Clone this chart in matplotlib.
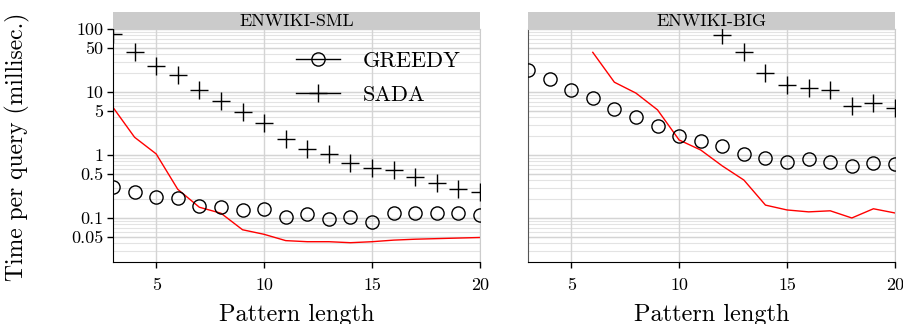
import matplotlib
matplotlib.use('Agg')
import matplotlib.pyplot as plt
import numpy as np

plt.rcParams['font.family'] = ['cmr10', 'DejaVu Serif']
plt.rcParams['axes.unicode_minus'] = False

# pattern lengths
lengths = list(range(3, 21))

# ENWIKI-SML
sml_greedy = [0.31, 0.256, 0.216, 0.208, 0.157, 0.148, 0.135, 0.14, 0.105, 0.115,
              0.096, 0.103, 0.086, 0.12, 0.12, 0.12, 0.12, 0.111]
sml_sada = [83, 42.6, 26.2, 18.6, 10.8, 7.3, 4.8, 3.2, 1.77, 1.25,
            1.03, 0.755, 0.63, 0.58, 0.45, 0.356, 0.29, 0.26]
sml_red = [5.7, 1.91, 1.04, 0.285, 0.148, 0.119, 0.065, 0.055, 0.0437, 0.042,
           0.042, 0.0405, 0.042, 0.0445, 0.046, 0.047, 0.048, 0.049]

# ENWIKI-BIG
big_greedy = [22.4, 16.1, 10.6, 7.9, 5.4, 4.0, 2.85, 1.98, 1.67, 1.41,
              1.04, 0.9, 0.766, 0.865, 0.78, 0.66, 0.75, 0.73]
big_sada_x = list(range(12, 21))
big_sada = [80, 42.6, 19.8, 12.9, 11.4, 10.8, 6.0, 6.8, 5.5]
big_red_x = list(range(6, 21))
big_red = [42.6, 14.3, 9.6, 5.2, 1.73, 1.2, 0.67, 0.40, 0.16, 0.134,
           0.125, 0.13, 0.1, 0.14, 0.12]

panels = [
    ('ENWIKI-SML', lengths, sml_greedy, lengths, sml_sada, lengths, sml_red),
    ('ENWIKI-BIG', lengths, big_greedy, big_sada_x, big_sada, big_red_x, big_red),
]

ytick_vals = [0.05, 0.1, 0.5, 1, 5, 10, 50, 100]
ytick_labels = ['0.05', '0.1', '0.5', '1', '5', '10', '50', '100']

fig = plt.figure(figsize=(9.04, 3.24), dpi=100)
W, H = 904, 324
lefts = [113, 528]
ax_w = 367
top, bottom = 29, 262
strip_h = 17

for i, (name, gx, gy, sx, sy, rx, ry) in enumerate(panels):
    ax = fig.add_axes([lefts[i] / W, (H - bottom) / H, ax_w / W, (bottom - top) / H])
    ax.set_yscale('log')
    ax.set_xlim(3, 20)
    ax.set_ylim(0.02, 100)

    # grid lines, minor and major
    minor = [m * 10.0 ** k for k in range(-2, 2) for m in range(1, 10)]
    for v in minor:
        if 0.02 < v < 100:
            ax.axhline(v, color='#e3e3e3', lw=0.8, zorder=0)
    for v in ytick_vals:
        ax.axhline(v, color='#d4d4d4', lw=1.0, zorder=0)
    for v in [5, 10, 15, 20]:
        ax.axvline(v, color='#d4d4d4', lw=1.0, zorder=0)

    ax.plot(rx, ry, color='red', lw=1.0, zorder=2)
    ax.plot(gx, gy, ls='none', marker='o', ms=9.5, mfc='none', mec='black',
            mew=1.0, label='GREEDY', zorder=3)
    ax.plot(sx, sy, ls='none', marker='+', ms=13, mec='black',
            mew=1.0, label='SADA', zorder=3)

    ax.set_xticks([5, 10, 15, 20])
    ax.set_xticklabels(['5', '10', '15', '20'], fontsize=13)
    ax.minorticks_off()
    ax.set_yticks(ytick_vals)
    ax.tick_params(axis='both', direction='out', length=4, width=1, color='black')
    ax.tick_params(axis='x', pad=7)
    ax.tick_params(axis='y', pad=3)
    if i == 0:
        ax.set_yticklabels(ytick_labels, fontsize=13)
        ax.set_ylabel('Time per query (millisec.)', fontsize=17)
        ax.yaxis.set_label_coords(-0.225, 0.496)
    else:
        ax.set_yticklabels([])
        ax.tick_params(axis='y', length=0)
    ax.set_xlabel('Pattern length', fontsize=17.5, labelpad=8)

    for s in ['top', 'right']:
        ax.spines[s].set_color('#cccccc')
        ax.spines[s].set_linewidth(0.8)
    ax.spines['left'].set_color('black' if i == 0 else '#555555')
    ax.spines['bottom'].set_color('black')

    # facet strip
    sax = fig.add_axes([lefts[i] / W, (H - top) / H, ax_w / W, strip_h / H])
    sax.set_facecolor('#cbcbcb')
    sax.set_xticks([])
    sax.set_yticks([])
    for s in sax.spines.values():
        s.set_visible(False)
    sax.text(0.5, 0.45, name, ha='center', va='center', fontsize=13,
             transform=sax.transAxes)

    if i == 0:
        ax.legend(loc='upper right', bbox_to_anchor=(1.0, 0.99), frameon=False,
                  fontsize=16, handlelength=2.0, handletextpad=1.0,
                  labelspacing=0.65, borderpad=0.4)
        for h in ax.get_legend().legend_handles:
            h.set_linestyle('-')
            h.set_color('black')
            h.set_linewidth(1.0)

fig.savefig('out.png', dpi=100)
